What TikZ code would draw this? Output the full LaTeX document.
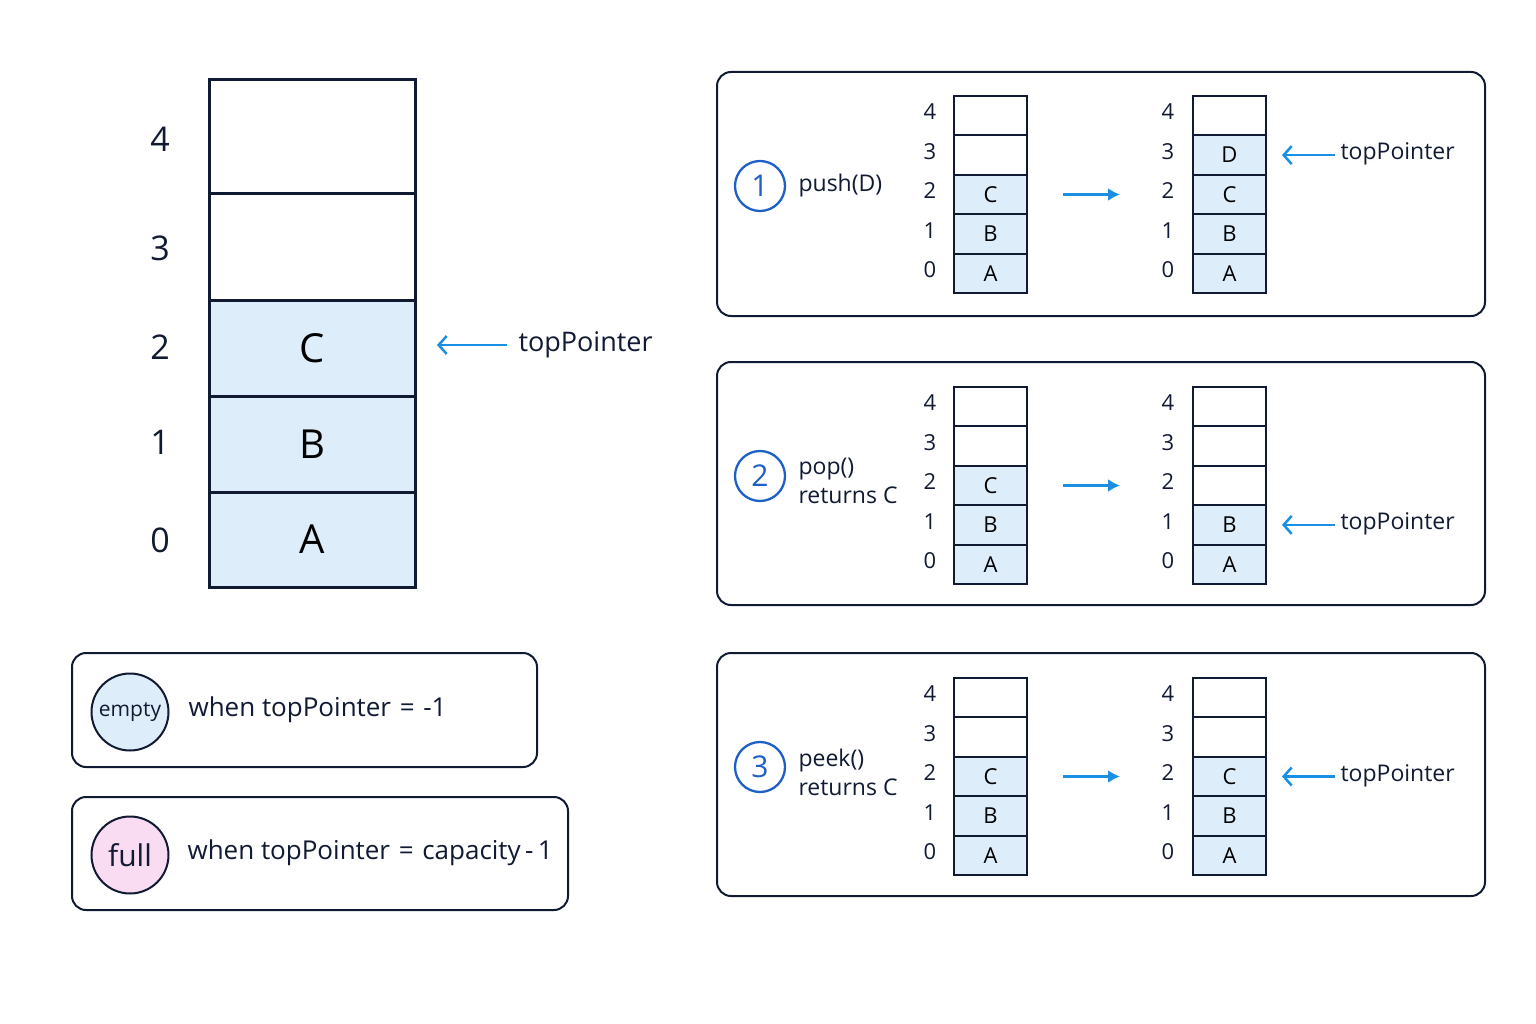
\documentclass[tikz,border=0pt]{standalone}
\usepackage{fontspec}
\setmainfont{Open Sans}
\usetikzlibrary{arrows.meta}
\begin{document}
\begin{tikzpicture}[x=1pt,y=-1pt,
  navy/.style={draw=txt, line width=3pt},
  cellbig/.style={navy, minimum width=206pt, inner sep=0pt, font=\fontsize{40}{40}\selectfont},
  cell/.style={draw=txt, line width=2pt, minimum width=73pt, minimum height=39.4pt, inner sep=0pt, font=\fontsize{22}{22}\selectfont},
  filled/.style={fill=fillb},
  panel/.style={draw=txt, line width=2pt, rounded corners=14pt},
  barrow/.style={draw=ablue, line width=2.5pt, -{Latex[length=12pt,width=13pt]}},
  parrow/.style={draw=ablue, line width=2.5pt, -{Straight Barb[length=8pt,width=18pt]}},
  idx/.style={font=\fontsize{22}{22}\selectfont, text=txt},
  lbl/.style={font=\fontsize{23}{23}\selectfont, text=txt, anchor=west}]
\definecolor{fillb}{HTML}{DDEDFA}
\definecolor{ablue}{HTML}{1A8FE3}
\definecolor{txt}{HTML}{111A33}
\definecolor{nblue}{HTML}{1F5FC8}
\definecolor{pinkf}{HTML}{F9DCF2}
\useasboundingbox[fill=white] (0,0) rectangle (1536,1024);
% big stack
\node[cellbig, minimum height=114pt] (b4) at (312,137) {};
\node[cellbig, minimum height=106pt] (b3) at (312,247) {};
\node[cellbig, minimum height=96pt, filled] (b2) at (312,348) {C};
\node[cellbig, minimum height=96pt, filled] (b1) at (312,444) {B};
\node[cellbig, minimum height=95pt, filled] (b0) at (312,539.5) {A};
\foreach \l/\y in {4/139,3/248,2/347,1/442,0/540}
  \node[font=\fontsize{34}{34}\selectfont, text=txt] (bi\l) at (160,\y) {\l};
\coordinate (bt) at (507,345);
\coordinate (bh) at (437,345);
\draw[parrow] (bt) -- (bh);
\node[lbl, font=\fontsize{27}{27}\selectfont] (btl) at (515,345) {topPointer};
% panels
\def\xmark{x}
\newcommand{\smallstack}[4]{%
  \foreach \t [count=\i from 0] in {#4}{
    \pgfmathsetmacro{\yy}{#3+19.7+39.4*\i}
    \pgfmathtruncatemacro{\k}{4-\i}
    \ifx\t\xmark
      \node[cell] (#1c\k) at (#2,\yy) {};
    \else
      \node[cell,filled] (#1c\k) at (#2,\yy) {\t};
    \fi
  }}
\foreach \p/\top/\boxt/\boxb in {1/96/72/316, 2/387/362/605, 3/678/653/896}{
  \draw[panel] (717,\boxt) rectangle (1485,\boxb);
  \foreach \k [count=\i from 0] in {4,3,2,1,0}{
    \pgfmathsetmacro{\yy}{\top+16+39.4*\i}
    \node[idx] at (930,\yy) {\k};
    \node[idx] at (1168,\yy) {\k};
  }
}
\smallstack{pa}{990.5}{96}{x,x,C,B,A}
\smallstack{pb}{1229.5}{96}{x,D,C,B,A}
\smallstack{qa}{990.5}{387}{x,x,C,B,A}
\smallstack{qb}{1229.5}{387}{x,x,x,B,A}
\smallstack{ra}{990.5}{678}{x,x,C,B,A}
\smallstack{rb}{1229.5}{678}{x,x,C,B,A}
% transition arrows
\draw[barrow] ([xshift=35pt]pac2.east) -- ([xshift=-72pt]pbc2.west);
\draw[barrow] ([xshift=35pt]qac2.east) -- ([xshift=-72pt]qbc2.west);
\draw[barrow] ([xshift=35pt]rac2.east) -- ([xshift=-72pt]rbc2.west);
% top pointers
\draw[parrow] ([xshift=68pt]pbc3.east) -- ([xshift=15pt]pbc3.east);
\node[lbl] at (1337,154) {topPointer};
\draw[parrow] ([xshift=68pt]qbc1.east) -- ([xshift=15pt]qbc1.east);
\node[lbl] at (1337,524) {topPointer};
\draw[parrow] ([xshift=68pt]rbc2.east) -- ([xshift=15pt]rbc2.east);
\node[lbl] at (1337,776) {topPointer};
% numbers
\foreach \n/\y in {1/186,2/476,3/767}
  \node[circle, draw=nblue, line width=2.3pt, minimum size=50pt, inner sep=0pt, text=nblue, font=\fontsize{30}{30}\selectfont] (n\n) at (760,\y) {\n};
\node[lbl] (t1) at (795,186) {push(D)};
\node[lbl, align=left] (t2) at (795,481) {pop()\\[6pt]returns C};
\node[lbl, align=left] (t3) at (795,772) {peek()\\[6pt]returns C};
% bottom boxes
\draw[panel] (72,653) rectangle (537,767);
\node[circle, draw=txt, line width=2pt, fill=fillb, minimum size=77pt, inner sep=0pt, font=\fontsize{21}{21}\selectfont, text=txt] (em) at (130,712) {empty};
\node[lbl, font=\fontsize{26}{26}\selectfont] at (185,710) {when topPointer\,\,=\,\,-1};
\draw[panel] (72,797) rectangle (568,910);
\node[circle, draw=txt, line width=2pt, fill=pinkf, minimum size=77pt, inner sep=0pt, font=\fontsize{30}{30}\selectfont, text=txt] (fu) at (130,855) {full};
\node[lbl, font=\fontsize{26}{26}\selectfont] at (184,853) {when topPointer\,\,=\,\,capacity\,-\,1};
\end{tikzpicture}
\end{document}
